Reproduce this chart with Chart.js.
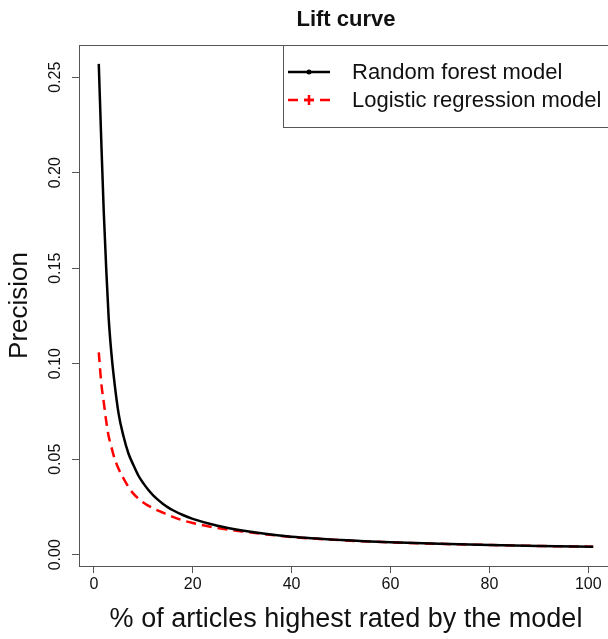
<!DOCTYPE html>
<html lang="en">
<head>
<meta charset="UTF-8">
<title>Lift curve</title>
<script src="https://cdn.jsdelivr.net/npm/chart.js"></script>
<style>
  body { margin: 0; background: #fff; }
  .wrap { width: 608px; height: 639px; overflow: hidden; }
</style>
</head>
<body>
<div class="wrap"><canvas id="liftChart" width="613" height="639"></canvas></div>
<script>
// % of articles (x) and precision for each model
const pctArticles = [1, 1.5, 2, 2.5, 3, 3.5, 4, 5, 6, 7, 8, 9, 10, 11, 12, 13, 14, 15, 16, 18, 20, 25, 30, 35, 40, 50, 60, 70, 80, 90, 101];
const randomForest = [0.257, 0.217, 0.180, 0.150, 0.124, 0.107, 0.094, 0.074, 0.062, 0.053, 0.047, 0.0415, 0.0375, 0.034, 0.0311, 0.0287, 0.0266, 0.0248, 0.0233, 0.0208, 0.0188, 0.0152, 0.0127, 0.0108, 0.0094, 0.0077, 0.0065, 0.0057, 0.0051, 0.0046, 0.0042];
const logisticReg = [0.106, 0.090, 0.080, 0.070, 0.062, 0.057, 0.052, 0.045, 0.040, 0.0355, 0.032, 0.0294, 0.0273, 0.0257, 0.0243, 0.0231, 0.022, 0.0209, 0.0198, 0.018, 0.0166, 0.014, 0.0122, 0.0106, 0.0093, 0.0076, 0.0065, 0.0057, 0.0051, 0.0046, 0.0042];
const seriesNames = ['Random forest model', 'Logistic regression model'];
const xTicks = [0, 20, 40, 60, 80, 100];
const yTicks = [0, 0.05, 0.10, 0.15, 0.20, 0.25];

const FONT = '"Liberation Sans", Arial, sans-serif';
Chart.defaults.font.family = FONT;
Chart.defaults.color = '#111';

// R-like extras: frame, title, rotated y labels, legend
const rStyle = {
    id: 'rStyle',
    afterDraw(chart) {
        const ctx = chart.ctx;
        const a = chart.chartArea;
        const y = chart.scales.y;
        ctx.save();
        ctx.strokeStyle = '#555';
        ctx.lineWidth = 1;
        ctx.strokeRect(a.left + 0.5, a.top + 0.5, a.right - a.left, a.bottom - a.top);

        // title
        ctx.fillStyle = '#111';
        ctx.font = 'bold 22px ' + FONT;
        ctx.textAlign = 'center';
        ctx.textBaseline = 'middle';
        ctx.fillText('Lift curve', (a.left + a.right) / 2, 20);

        // y tick labels, rotated like R
        ctx.font = '16px ' + FONT;
        yTicks.forEach(v => {
            ctx.save();
            ctx.translate(56, y.getPixelForValue(v));
            ctx.rotate(-Math.PI / 2);
            ctx.fillText(v.toFixed(2), 0, 0);
            ctx.restore();
        });

        // legend box
        const lx = 283, ly = a.top, lr = a.right, lb = 127;
        ctx.strokeStyle = '#555';
        ctx.strokeRect(lx + 0.5, ly + 0.5, lr - lx, lb - ly);
        const rows = [72, 100];
        chart.data.datasets.forEach((ds, i) => {
            const ry = rows[i];
            ctx.strokeStyle = ds.borderColor;
            ctx.fillStyle = ds.borderColor;
            ctx.lineWidth = 2.5;
            ctx.setLineDash(ds.borderDash || []);
            ctx.beginPath();
            ctx.moveTo(288, ry);
            ctx.lineTo(330, ry);
            ctx.stroke();
            ctx.setLineDash([]);
            if (i === 0) {
                ctx.beginPath();
                ctx.arc(309, ry, 2.5, 0, Math.PI * 2);
                ctx.fill();
            } else {
                ctx.beginPath();
                ctx.moveTo(304, ry); ctx.lineTo(314, ry);
                ctx.moveTo(309, ry - 5); ctx.lineTo(309, ry + 5);
                ctx.stroke();
            }
            ctx.fillStyle = '#111';
            ctx.font = '22px ' + FONT;
            ctx.textAlign = 'left';
            ctx.fillText(ds.label, 352, ry + 1);
        });
        ctx.restore();
    }
};

new Chart(document.getElementById('liftChart'), {
    type: 'line',
    data: {
        datasets: [{
            label: seriesNames[0],
            data: pctArticles.map((x, i) => ({ x: x, y: randomForest[i] })),
            borderColor: '#000000',
            borderWidth: 2.5,
            pointRadius: 0,
            cubicInterpolationMode: 'monotone'
        }, {
            label: seriesNames[1],
            data: pctArticles.map((x, i) => ({ x: x, y: logisticReg[i] })),
            borderColor: '#ff0000',
            borderWidth: 2.5,
            borderDash: [10, 6],
            pointRadius: 0,
            cubicInterpolationMode: 'monotone'
        }]
    },
    options: {
        responsive: false,
        animation: false,
        layout: { padding: { top: 45, left: 0, right: 0, bottom: 0 } },
        plugins: { legend: { display: false }, tooltip: { enabled: false } },
        scales: {
            x: {
                type: 'linear',
                min: -3,
                max: 105,
                afterBuildTicks: s => { s.ticks = xTicks.map(v => ({ value: v })); },
                afterFit: s => { s.height = 73; },
                grid: { drawOnChartArea: false, drawTicks: true, tickLength: 7, color: '#555' },
                border: { display: false },
                ticks: { font: { size: 16 }, padding: 2, maxRotation: 0, autoSkip: false },
                title: {
                    display: true,
                    text: '% of articles highest rated by the model',
                    font: { size: 27 },
                    padding: { top: 0, bottom: 3 }
                }
            },
            y: {
                type: 'linear',
                min: -0.0059,
                max: 0.2669,
                afterBuildTicks: s => { s.ticks = yTicks.map(v => ({ value: v })); },
                afterFit: s => { s.width = 79; },
                grid: { drawOnChartArea: false, drawTicks: true, tickLength: 7, color: '#555' },
                border: { display: false },
                ticks: { display: false },
                title: {
                    display: true,
                    text: 'Precision',
                    font: { size: 26 },
                    padding: { top: 4, bottom: 0 }
                }
            }
        }
    },
    plugins: [rStyle]
});
</script>
</body>
</html>
